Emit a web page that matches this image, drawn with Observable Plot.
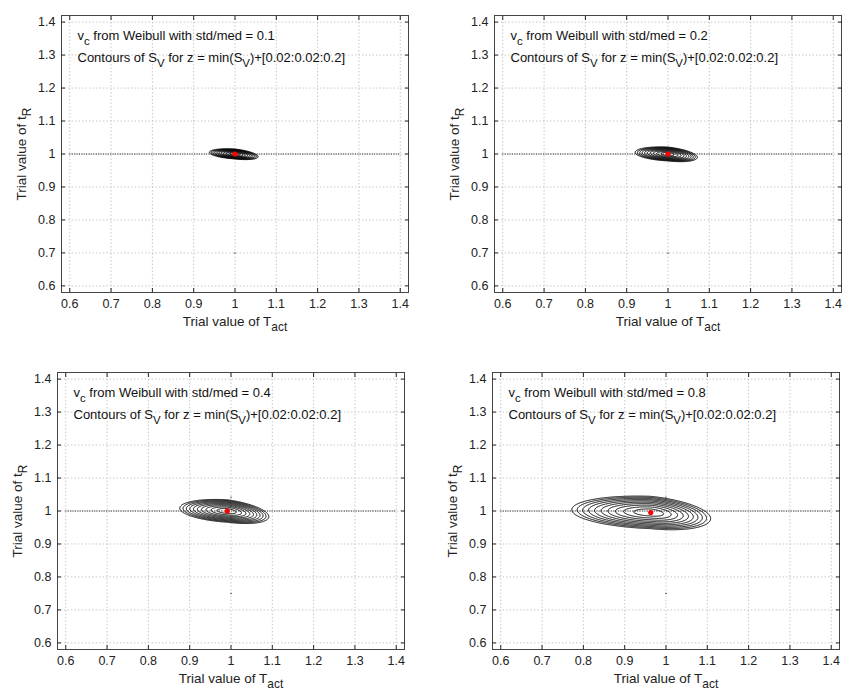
<!DOCTYPE html>
<html><head><meta charset="utf-8">
<script src="https://cdn.jsdelivr.net/npm/d3@7"></script>
<script src="https://cdn.jsdelivr.net/npm/@observablehq/plot@0.6"></script>
<style>
body{margin:0;background:#fff;}
#wrap{position:relative;width:842px;height:691px;overflow:hidden;background:#fff;}
.panel{position:absolute;}
</style></head><body><div id="wrap"></div>
<script>
// ---- data ----
const stdMed = ["0.1", "0.2", "0.4", "0.8"];
const levelOffsets = [0.02, 0.04, 0.06, 0.08, 0.10, 0.12, 0.14, 0.16, 0.18, 0.20];
const ticks = [0.6, 0.7, 0.8, 0.9, 1.0, 1.1, 1.2, 1.3, 1.4];
const axisDomain = [0.58, 1.42];
const refLine = [1.0];
// location of min(S_V) (red dot)
const minTact = [1.0, 1.0, 0.991, 0.963];
const minTR = [1.0, 1.0, 1.0, 0.9955];
// outermost contour (z = min + 0.2)
const outerLeftTact = [0.938, 0.9205, 0.876, 0.772];
const outerRightTact = [1.056, 1.071, 1.0915, 1.108];
const outerLeftTR = [1.005, 1.005, 1.0087, 1.004];
const outerRightTR = [0.992, 0.990, 0.983, 0.977];
const outerHalfHeight = [0.015, 0.021, 0.034, 0.049];
// tiny black points
const extraT = [[1.0], [1.0], [1.0, 1.0], [1.0, 1.0]];
const extraR = [[0.7], [0.7], [0.75, 1.042], [0.75, 1.042]];
const xLabel = "Trial value of T_{act}";
const yLabel = "Trial value of t_{R}";
const line1 = "v_{c} from Weibull with std/med = ";
const line2 = "Contours of S_{V} for z = min(S_{V})+[0.02:0.02:0.2]";

// ---- layout ----
const framePos = [[61, 15], [494, 15], [57, 372], [492, 372]];
const FW = 347, FH = 277, ML = 55, MT = 10, MR = 2, MB = 45;
const FONT = "'Liberation Sans', Arial, Helvetica, sans-serif";
const fmt = d => String(+d.toFixed(1));

function surface(i) {
  const cx = minTact[i], cy = minTR[i];
  const wl = cx - outerLeftTact[i], wr = outerRightTact[i] - cx;
  const tl = (outerLeftTR[i] - cy) / (-wl), tr = (outerRightTR[i] - cy) / wr;
  const h = outerHalfHeight[i];
  const zMax = levelOffsets[levelOffsets.length - 1];
  return (x, y) => {
    const dx = x - cx, dy = y - cy;
    const w = dx < 0 ? wl : wr, t = dx < 0 ? tl : tr;
    const u = dx / w, v = (dy - t * dx) / h;
    return zMax * Math.pow(u * u + v * v, 0.75);
  };
}

function richify(svg) {
  d3.select(svg).selectAll("text").each(function () {
    const s = this.textContent;
    if (!s.includes("_{")) return;
    while (this.firstChild) this.removeChild(this.firstChild);
    const re = /_\{([^}]*)\}/g;
    let last = 0, m, down = false;
    const add = (str, sub) => {
      if (!str) return;
      const ts = document.createElementNS("http://www.w3.org/2000/svg", "tspan");
      ts.textContent = str;
      if (sub) { ts.setAttribute("dy", "5"); ts.setAttribute("font-size", "88%"); down = true; }
      else if (down) { ts.setAttribute("dy", "-5"); down = false; }
      this.appendChild(ts);
    };
    while ((m = re.exec(s))) {
      add(s.slice(last, m.index), false);
      add(m[1], true);
      last = m.index + m[0].length;
    }
    add(s.slice(last), false);
  });
}

const wrap = document.getElementById("wrap");
stdMed.forEach((sm, i) => {
  const extras = extraT[i].map((t, k) => ({T: t, R: extraR[i][k]}));
  const plot = Plot.plot({
    width: ML + FW + MR, height: MT + FH + MB,
    marginLeft: ML, marginTop: MT, marginRight: MR, marginBottom: MB,
    x: {domain: axisDomain}, y: {domain: axisDomain},
    style: {fontFamily: FONT, fontSize: "12px", color: "#222", background: "white", overflow: "visible"},
    marks: [
      Plot.gridX(ticks, {stroke: "#c8c8c8", strokeOpacity: 1, strokeDasharray: "1.5,2"}),
      Plot.gridY(ticks, {stroke: "#c8c8c8", strokeOpacity: 1, strokeDasharray: "1.5,2"}),
      Plot.ruleY(refLine, {x1: ticks[0], x2: ticks[ticks.length - 1], stroke: "#333", strokeDasharray: "1.2,1.2"}),
      Plot.contour({
        value: surface(i), x1: axisDomain[0], x2: axisDomain[1], y1: axisDomain[0], y2: axisDomain[1],
        thresholds: levelOffsets, stroke: "black", fill: "none", strokeWidth: 1, pixelSize: 0.5
      }),
      Plot.dot([{T: minTact[i], R: minTR[i]}], {x: "T", y: "R", r: 2.6, fill: "red", stroke: "none"}),
      Plot.dot(extras, {x: "T", y: "R", r: 0.7, fill: "#333", stroke: "none"}),
      Plot.frame({stroke: "#444"}),
      Plot.axisX(ticks, {anchor: "bottom", tickSize: -4, tickPadding: 11, tickFormat: fmt, label: null, fontSize: 12.5}),
      Plot.axisX(ticks, {anchor: "top", tickSize: -4, tickFormat: () => "", label: null}),
      Plot.axisY(ticks, {anchor: "left", tickSize: -4, tickPadding: 10, tickFormat: fmt, label: null, fontSize: 12.5}),
      Plot.axisY(ticks, {anchor: "right", tickSize: -4, tickFormat: () => "", label: null}),
      Plot.text([line1 + sm], {frameAnchor: "top-left", dx: 16, dy: 20, textAnchor: "start", lineAnchor: "middle", fontSize: 13, fill: "#111"}),
      Plot.text([line2], {frameAnchor: "top-left", dx: 16, dy: 42, textAnchor: "start", lineAnchor: "middle", fontSize: 13, fill: "#111"}),
      Plot.text([xLabel], {frameAnchor: "bottom", dy: 29, lineAnchor: "middle", fontSize: 13.5, fill: "#222"}),
      Plot.text([yLabel], {frameAnchor: "left", dx: -40, rotate: -90, lineAnchor: "middle", textAnchor: "middle", fontSize: 13.5, fill: "#222"})
    ]
  });
  richify(plot);
  const div = document.createElement("div");
  div.className = "panel";
  div.style.left = (framePos[i][0] - ML) + "px";
  div.style.top = (framePos[i][1] - MT) + "px";
  div.style.width = (ML + FW + MR) + "px";
  div.appendChild(plot);
  wrap.appendChild(div);
});
</script></body></html>
